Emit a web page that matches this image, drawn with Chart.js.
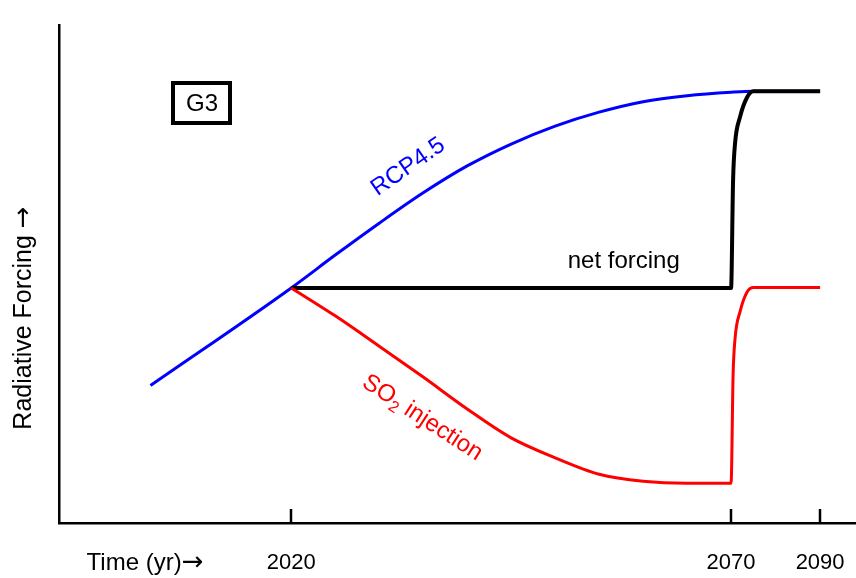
<!DOCTYPE html>
<html>
<head>
<meta charset="utf-8">
<script src="https://cdn.jsdelivr.net/npm/chart.js@4/dist/chart.umd.min.js"></script>
<style>
  html, body { margin: 0; padding: 0; background: #fff; }
  #wrap { width: 856px; height: 578px; position: relative; }
</style>
</head>
<body>
<div id="wrap"><canvas id="forcingChart"></canvas></div>
<script>
/******************************************************
 * DATA (schematic)
 ******************************************************/
const tickYears = [2020, 2070, 2090];

const rcpYears = [2004, 2020, 2025, 2030, 2035, 2040, 2045, 2050, 2055, 2060, 2065, 2070, 2075, 2090];
const rcp45    = [2.76, 4.72, 5.38, 6.02, 6.63, 7.17, 7.61, 7.97, 8.25, 8.46, 8.58, 8.65, 8.67, 8.67];

const netYears   = [2020, 2070, 2070.45, 2070.9, 2072, 2073.6, 2075, 2090];
const netForcing = [4.72, 4.72, 6.89,    7.63,   8.15, 8.55,   8.67, 8.67];

const so2Years = [2020, 2025, 2030, 2035, 2040, 2045, 2050, 2055, 2060, 2065, 2070, 2070.45, 2070.9, 2072, 2073.6, 2075, 2090];
const so2      = [4.72, 4.16, 3.55, 2.93, 2.29, 1.71, 1.31, 0.98, 0.84, 0.80, 0.80, 2.97,    3.71,   4.24, 4.64,   4.73, 4.73];

const FONT = '"Liberation Sans", Arial, sans-serif';
const ARROW_FONT = '"DejaVu Sans", sans-serif';

/******************************************************
 * TIME AXIS: the figure squeezes the years after 2070
 ******************************************************/
const SQUEEZE_FROM = 2070;
const SQUEEZE_BY = 0.506;

function squeeze(year) {
  return year <= SQUEEZE_FROM ? year : SQUEEZE_FROM + (year - SQUEEZE_FROM) * SQUEEZE_BY;
}
function unsqueeze(v) {
  return v <= SQUEEZE_FROM ? v : SQUEEZE_FROM + (v - SQUEEZE_FROM) / SQUEEZE_BY;
}

class SchematicTimeScale extends Chart.LinearScale {
  static id = "schematicTime";
  static defaults = Chart.LinearScale.defaults;
  getPixelForValue(value) {
    return super.getPixelForValue(squeeze(value));
  }
  getValueForPixel(pixel) {
    return unsqueeze(super.getValueForPixel(pixel));
  }
}
Chart.register(SchematicTimeScale);

function points(years, values) {
  return years.map((yr, i) => ({ x: yr, y: values[i] }));
}

/******************************************************
 * TEXT ON THE PLOT
 ******************************************************/
const curveLabels = [
  { text: "RCP4.5", year: 2033.3, level: 7.15, angle: -35, color: "#0000ff" },
  { text: "net forcing", year: 2057.8, level: 5.26, angle: 0, color: "#000000" },
  { text: "SO", sub: "2", rest: " injection", year: 2034.9, level: 2.11, angle: 33, color: "#ff0000" }
];

// draws a row of text pieces (each with its own font), centred on 0,0
function drawRun(ctx, parts) {
  let total = 0;
  parts.forEach(p => { ctx.font = p.font; p.w = ctx.measureText(p.text).width; total += p.w; });
  let cx = -total / 2;
  ctx.textAlign = "left";
  parts.forEach(p => {
    ctx.font = p.font;
    ctx.fillText(p.text, cx, p.dy || 0);
    cx += p.w;
  });
}

const decorations = {
  id: "decorations",
  afterDraw(chart) {
    const ctx = chart.ctx;
    const x = chart.scales.x;
    const y = chart.scales.y;
    const area = chart.chartArea;

    ctx.save();

    // tick marks point up into the plot
    ctx.strokeStyle = "#000";
    ctx.lineWidth = 2.5;
    tickYears.forEach(yr => {
      const px = Math.round(x.getPixelForValue(yr));
      ctx.beginPath();
      ctx.moveTo(px, area.bottom);
      ctx.lineTo(px, area.bottom - 14);
      ctx.stroke();
    });

    // axis names
    ctx.fillStyle = "#000";
    ctx.textBaseline = "alphabetic";
    ctx.save();
    ctx.translate(145, 570);
    drawRun(ctx, [
      { text: "Time (yr)", font: "24px " + FONT },
      { text: "\u2192", font: "26px " + ARROW_FONT }
    ]);
    ctx.restore();

    ctx.save();
    ctx.translate(31, 318);
    ctx.rotate(-Math.PI / 2);
    drawRun(ctx, [
      { text: "Radiative Forcing ", font: "25px " + FONT },
      { text: "\u2192", font: "26px " + ARROW_FONT }
    ]);
    ctx.restore();

    // G3 box
    ctx.lineWidth = 4;
    ctx.strokeRect(173, 83, 57, 40);
    ctx.font = "24px " + FONT;
    ctx.textAlign = "center";
    ctx.textBaseline = "middle";
    ctx.fillText("G3", 202, 104);

    // curve labels
    const big = "24px " + FONT;
    const small = "16px " + FONT;
    curveLabels.forEach(lab => {
      ctx.save();
      ctx.translate(x.getPixelForValue(lab.year), y.getPixelForValue(lab.level));
      ctx.rotate(lab.angle * Math.PI / 180);
      ctx.fillStyle = lab.color;
      ctx.textBaseline = "middle";
      const parts = [{ text: lab.text, font: big }];
      if (lab.sub) {
        parts.push({ text: lab.sub, font: small, dy: 7 });
        parts.push({ text: lab.rest, font: big });
      }
      drawRun(ctx, parts);
      ctx.restore();
    });

    ctx.restore();
  }
};

/******************************************************
 * CHART
 ******************************************************/
const ctx = document.getElementById("forcingChart").getContext("2d");
new Chart(ctx, {
  type: "line",
  data: {
    datasets: [
      {
        label: "RCP4.5",
        data: points(rcpYears, rcp45),
        borderColor: "#0000ff",
        borderWidth: 3,
        order: 3
      },
      {
        label: "net forcing",
        data: points(netYears, netForcing),
        borderColor: "#000000",
        borderWidth: 4,
        order: 2
      },
      {
        label: "SO2 injection",
        data: points(so2Years, so2),
        borderColor: "#ff0000",
        borderWidth: 3,
        order: 1
      }
    ]
  },
  options: {
    responsive: true,
    maintainAspectRatio: false,
    animation: false,
    events: [],
    layout: { padding: { top: 25, right: 0, bottom: 0, left: 0 } },
    elements: {
      point: { radius: 0 },
      line: { cubicInterpolationMode: "monotone", fill: false, borderJoinStyle: "round" }
    },
    plugins: {
      legend: { display: false },
      tooltip: { enabled: false }
    },
    scales: {
      x: {
        type: "schematicTime",
        position: "bottom",
        min: 1993.6,   // drawn (squeezed) units
        max: 2084.2,
        afterBuildTicks: scale => { scale.ticks = tickYears.map(v => ({ value: v })); },
        afterFit: scale => {
          scale.height = 55;
          scale.paddingLeft = 0;
          scale.paddingRight = 0;
        },
        grid: { display: false, drawTicks: false },
        border: { display: true, color: "#000", width: 2.5 },
        ticks: {
          autoSkip: false,
          maxRotation: 0,
          padding: 27,
          color: "#000",
          font: { family: FONT, size: 22 },
          callback: v => String(v)
        }
      },
      y: {
        type: "linear",
        min: 0,
        max: 10,
        afterFit: scale => { scale.width = 59; },
        grid: { display: false, drawTicks: false },
        border: { display: true, color: "#000", width: 2.5 },
        ticks: { display: false }
      }
    }
  },
  plugins: [decorations]
});
</script>
</body>
</html>
